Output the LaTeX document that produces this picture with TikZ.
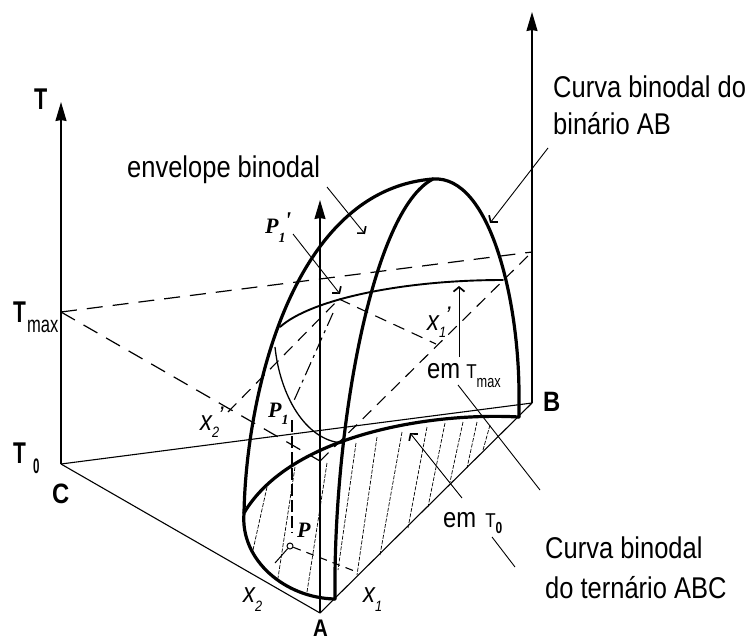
\documentclass[tikz,border=0pt]{standalone}
\usepackage{graphicx}
\usepackage{fontspec}
\setmainfont{Liberation Sans}
\newfontfamily\serifit{Liberation Serif}
\usetikzlibrary{arrows.meta}
\newcommand{\fsz}[1]{\fontsize{#1}{#1}\selectfont}
\newcommand{\cond}[2][.85]{\scalebox{#1}[1]{#2}}
\tikzset{
  axisline/.style={line width=1.5pt,-{Stealth[length=19pt,width=11pt,inset=1pt]}},
  baseedge/.style={line width=1.1pt},
  thickcurve/.style={line width=3.2pt,line cap=round,line join=round},
  midcurve/.style={line width=1.9pt,line cap=round},
  thincurve/.style={line width=1.3pt},
  dashlong/.style={line width=1.2pt,dash pattern=on 16pt off 10pt},
  dashmid/.style={line width=1.1pt,dash pattern=on 12pt off 8pt},
  hatch/.style={line width=0.7pt,dash pattern=on 4pt off 1.5pt},
  leader/.style={line width=0.9pt},
  pointer/.style={line width=0.9pt,-{Straight Barb[length=4.5pt,width=11pt,line width=1.7pt]}},
  lab/.style={inner sep=0pt,anchor=base west,font=\fsz{30}},
  lbl/.style={inner sep=0pt,anchor=base west,font=\fsz{28}\bfseries},
  xlab/.style={inner sep=0pt,anchor=base west,font=\fsz{28}\itshape},
  plab/.style={inner sep=0pt,anchor=base west,font=\fsz{22}\serifit\bfseries\itshape},
}
\begin{document}
\begin{tikzpicture}[x=1pt,y=-1pt]
\useasboundingbox (0,0) rectangle (751,642);
% corners
\coordinate (C) at (61,464);
\coordinate (A) at (320,613);
\coordinate (Bc) at (532,403);
\coordinate (Ct) at (61,312);
\coordinate (At) at (320,461);
\coordinate (Bt) at (532,252);
\coordinate (Ctip) at (61,102);
\coordinate (Atip) at (320,200);
\coordinate (Btip) at (532,12);
% axes
\draw[axisline] (C) -- (Ctip);
\draw[axisline] (A) -- (Atip);
\draw[axisline] (Bc) -- (Btip);
% base triangle
\draw[baseedge] (C) -- (Bc);
\draw[baseedge] (C) -- (A);
\draw[baseedge] (A) -- (Bc);
% Tmax triangle
\draw[dashlong] (Ct) -- (Bt);
\draw[dashlong] (Ct) -- (At);
\draw[dashmid] (At) -- (Bt);
% hatch
\coordinate (h1a) at (267,487); \coordinate (h1b) at (253,550);
\coordinate (h2a) at (295,467); \coordinate (h2b) at (278,578);
\coordinate (h3a) at (327,463); \coordinate (h3b) at (307,592);
\coordinate (h4a) at (356,443); \coordinate (h4b) at (338,570);
\coordinate (h5a) at (377,437); \coordinate (h5b) at (357,575);
\coordinate (h6a) at (402,432); \coordinate (h6b) at (380,555);
\coordinate (h7a) at (427,427); \coordinate (h7b) at (408,528);
\coordinate (h8a) at (445,423); \coordinate (h8b) at (428,507);
\coordinate (h9a) at (463,422); \coordinate (h9b) at (450,482);
\coordinate (h10a) at (477,422); \coordinate (h10b) at (467,468);
\coordinate (h11a) at (490,425); \coordinate (h11b) at (483,450);
\foreach \i in {1,...,11} \draw[hatch] (h\i a) -- (h\i b);
% curves
\coordinate (top) at (433,179);
\coordinate (leftpt) at (244,513);
\coordinate (rightpt) at (519,417);
\coordinate (innerb) at (335,599);
\draw[thincurve] (275,347) .. controls (280,395) and (305,440) .. (342,443);
\draw[midcurve] (280,327) .. controls (310,300) and (400,280) .. (503,280);
\draw[thickcurve] (leftpt) .. controls (246,400) and (290,190) .. (top);
\draw[thickcurve] (innerb) .. controls (333,430) and (372,210) .. (top)
   .. controls (490,175) and (519,300) .. (519,395) -- (rightpt);
\draw[thickcurve] (rightpt) .. controls (430,412) and (290,435) .. (leftpt)
   .. controls (240,560) and (285,598) .. (innerb);
% tie lines
\coordinate (x2p) at (228,412);
\coordinate (P1p) at (339,299);
\coordinate (x1p) at (436,344);
\coordinate (P1) at (292,405);
\coordinate (Pc) at (290,546);
\draw[dashmid] (x2p) -- (P1p);
\draw[dashmid] (P1p) -- (x1p);
\draw[line width=1.1pt,dash pattern=on 14pt off 5pt on 3pt off 5pt] (333,313) -- (P1);
\draw[line width=1.4pt,dash pattern=on 12pt off 4pt] (292,420) -- (292,533);
\node[circle,draw,line width=1pt,inner sep=0pt,minimum size=6pt] (Pn) at (Pc) {};
\coordinate (t2) at (275,563);
\coordinate (t1) at (357,572);
\draw[line width=1pt] (Pn) -- (t2);
\draw[dashmid,dash pattern=on 8pt off 6pt] (Pn) -- (t1);
% labels
\node[lbl] (lT) at (34,109) {\cond[.72]{\fsz{30}T}};
\node[lbl] (lTm) at (13,322) {\cond[.7]{\fsz{30}T}\hspace{1pt}\raisebox{-10pt}{\cond[.72]{\fsz{23}\mdseries max}}};
\node[lbl] (lT0) at (13,463) {\cond[.7]{\fsz{30}T}\hspace{7pt}\raisebox{-10pt}{\cond[.55]{\fsz{21}0}}};
\node[lbl] (lC) at (52,503) {\cond{C}};
\node[lbl] (lB) at (543,411) {\cond{B}};
\node[lbl,font=\fsz{24}\bfseries] (lA) at (313,636) {\cond{A}};
\node[lab] (lenv) at (127,177) {\cond{envelope binodal}};
\node[lab] (lcb1) at (553,97) {\cond{Curva binodal do}};
\node[lab] (lcb2) at (553,134) {\cond{binário AB}};
\node[lab] (lct1) at (545,558) {\cond{Curva binodal}};
\node[lab] (lct2) at (545,598) {\cond{do ternário ABC}};
\node[lab] (lemx) at (427,378) {\cond{\fsz{28}em}\hspace{6pt}\cond{\fsz{20}T}\raisebox{-9pt}{\cond[.75]{\fsz{17}max}}};
\node[lab] (lem0) at (443,527) {\cond{\fsz{28}em}\hspace{9pt}\cond{\fsz{20}T}\raisebox{-6pt}{\cond[.75]{\fsz{16}\bfseries 0}}};
\node[plab] (lP1p) at (265,233) {P\rlap{\raisebox{-9pt}{\fsz{14}1}}\raisebox{5pt}{\hspace{6pt}\fsz{24}'}};
\node[plab] (lP1) at (268,417) {P\raisebox{-7pt}{\fsz{14}1}};
\node[plab] (lP) at (297,537) {P};
\node[xlab] (lx1p) at (427,330) {\cond{x}\rlap{\raisebox{-7pt}{\cond{\fsz{15}1}}}\raisebox{7pt}{\hspace{6pt}\fsz{24}'}};
\node[xlab] (lx2p) at (200,430) {\cond{x}\rlap{\raisebox{-7pt}{\cond{\fsz{15}2}}}\raisebox{7pt}{\hspace{6pt}\fsz{24}'}};
\node[xlab] (lx2) at (243,602) {\cond{x}\raisebox{-9pt}{\cond{\fsz{15}2}}};
\node[xlab] (lx1) at (363,602) {\cond{x}\raisebox{-9pt}{\cond{\fsz{15}1}}};
% pointers
\coordinate (ae) at (365,234);
\coordinate (ae0) at (327,187);
\draw[pointer] (ae0) -- (ae);
\coordinate (ab) at (490,223);
\coordinate (ab0) at (548,148);
\draw[pointer] (ab0) -- (ab);
\coordinate (ap) at (340,294);
\coordinate (ap0) at (293,234);
\draw[pointer] (ap0) -- (ap);
\coordinate (am) at (459,286);
\coordinate (am0) at (459,357);
\draw[pointer] (am0) -- (am);
\coordinate (a0) at (410,433);
\coordinate (a00) at (462,498);
\draw[pointer] (a00) -- (a0);
\coordinate (l1) at (458,385);
\coordinate (l2) at (540,490);
\draw[leader] (l1) -- (l2);
\coordinate (l3) at (492,537);
\coordinate (l4) at (515,567);
\draw[leader] (l3) -- (l4);
\end{tikzpicture}
\end{document}
